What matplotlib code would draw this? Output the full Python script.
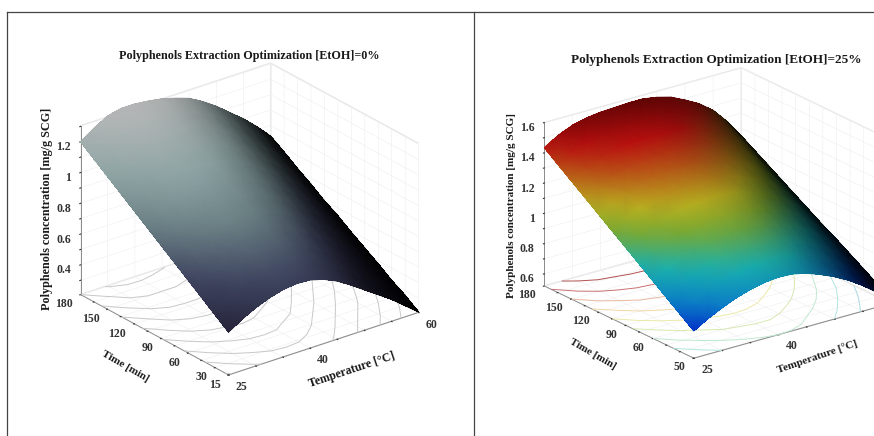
import numpy as np
import matplotlib
matplotlib.use("Agg")
import matplotlib.pyplot as plt
from matplotlib.colors import LinearSegmentedColormap, ListedColormap, Normalize
from matplotlib.lines import Line2D
from mpl_toolkits.mplot3d import proj3d

plt.rcParams["font.family"] = ["Liberation Serif", "DejaVu Serif"]
plt.rcParams["font.weight"] = "bold"

W, H = 874, 436

temps = [25, 27.5, 30, 32.5, 35, 37.5, 40, 42.5, 45, 47.5, 50, 52.5, 55, 57.5, 60]
times = [15, 30, 45, 60, 75, 90, 105, 120, 135, 150, 165, 180]

# concentration, one row per temperature, one column per time
conc_0 = [
    [.485, .55, .615, .68, .745, .81, .875, .94, 1.005, 1.07, 1.135, 1.20],
    [.54, .605, .67, .74, .80, .87, .93, .995, 1.06, 1.13, 1.19, 1.26],
    [.585, .65, .72, .78, .85, .915, .98, 1.05, 1.11, 1.18, 1.24, 1.31],
    [.62, .685, .75, .81, .88, .94, 1.01, 1.07, 1.14, 1.20, 1.265, 1.33],
    [.645, .71, .77, .83, .89, .955, 1.02, 1.08, 1.14, 1.20, 1.27, 1.33],
    [.655, .715, .775, .835, .90, .96, 1.02, 1.08, 1.14, 1.20, 1.26, 1.32],
    [.65, .71, .77, .83, .89, .95, 1.01, 1.07, 1.125, 1.185, 1.245, 1.305],
    [.625, .685, .745, .80, .86, .92, .98, 1.04, 1.10, 1.16, 1.22, 1.28],
    [.585, .645, .705, .77, .83, .89, .95, 1.01, 1.07, 1.13, 1.19, 1.25],
    [.53, .59, .65, .71, .775, .835, .895, .96, 1.02, 1.08, 1.14, 1.20],
    [.47, .53, .59, .655, .715, .775, .835, .90, .96, 1.02, 1.08, 1.14],
    [.41, .47, .53, .59, .65, .71, .77, .83, .89, .95, 1.01, 1.07],
    [.35, .41, .47, .53, .585, .645, .705, .76, .82, .88, .94, 1.00],
    [.28, .34, .40, .455, .51, .57, .63, .685, .745, .80, .86, .92],
    [.21, .27, .32, .38, .435, .49, .55, .60, .66, .715, .775, .83],
]
conc_25 = [
    [.70, .767, .833, .90, .967, 1.034, 1.10, 1.167, 1.234, 1.30, 1.367, 1.434],
    [.755, .82, .89, .955, 1.02, 1.09, 1.155, 1.22, 1.29, 1.36, 1.425, 1.49],
    [.80, .87, .93, 1.00, 1.07, 1.13, 1.20, 1.26, 1.33, 1.40, 1.46, 1.53],
    [.84, .905, .97, 1.03, 1.10, 1.165, 1.23, 1.295, 1.36, 1.425, 1.49, 1.553],
    [.87, .93, 1.00, 1.06, 1.12, 1.19, 1.25, 1.31, 1.38, 1.44, 1.50, 1.565],
    [.89, .95, 1.01, 1.075, 1.14, 1.20, 1.26, 1.32, 1.385, 1.45, 1.51, 1.57],
    [.90, .96, 1.02, 1.085, 1.145, 1.21, 1.27, 1.33, 1.39, 1.45, 1.515, 1.575],
    [.895, .96, 1.02, 1.08, 1.14, 1.205, 1.27, 1.33, 1.39, 1.45, 1.515, 1.575],
    [.875, .94, 1.00, 1.06, 1.125, 1.19, 1.25, 1.31, 1.375, 1.44, 1.50, 1.56],
    [.84, .90, .965, 1.03, 1.09, 1.155, 1.22, 1.28, 1.345, 1.41, 1.47, 1.535],
    [.80, .86, .925, .99, 1.05, 1.115, 1.175, 1.24, 1.30, 1.365, 1.43, 1.49],
    [.75, .81, .875, .94, 1.00, 1.065, 1.125, 1.19, 1.25, 1.315, 1.38, 1.44],
    [.69, .75, .81, .875, .935, 1.00, 1.06, 1.12, 1.185, 1.245, 1.31, 1.37],
    [.62, .68, .74, .80, .855, .915, .975, 1.03, 1.09, 1.15, 1.21, 1.27],
    [.55, .605, .66, .715, .77, .82, .875, .93, .985, 1.04, 1.095, 1.15],
]

x_ticks = [25, 30, 35, 40, 45, 50, 55, 60]
x_labels = ["25", "", "", "40", "", "", "", "60"]
y_ticks = [15, 30, 45, 60, 75, 90, 105, 120, 135, 150, 165, 180]
y_labels_0 = ["15", "30", "", "60", "", "90", "", "120", "", "150", "", "180"]
y_labels_25 = ["50", "", "", "60", "", "90", "", "120", "", "150", "", "180"]
z_ticks_0 = [.3, .4, .5, .6, .7, .8, .9, 1, 1.1, 1.2, 1.3]
z_labels_0 = ["", "0.4", "", "0.6", "", "0.8", "", "1", "", "1.2", ""]
z_ticks_25 = [.6, .7, .8, .9, 1, 1.1, 1.2, 1.3, 1.4, 1.5, 1.6]
z_labels_25 = ["0.6", "", "0.8", "", "1", "", "1.2", "", "1.4", "", "1.6"]

# brightness of the lit surface at each temperature
light = [1, 1, 1, 1, 1, .98, .95, .89, .81, .71, .59, .46, .33, .19, .06]

gray_map = LinearSegmentedColormap.from_list(
    "gray_map", [(0, "#0c0c18"), (.25, "#25233a"), (.44, "#3f4560"), (.62, "#6b8185"),
                 (.8, "#8fa5a5"), (1, "#b4b6b6")])
jet_map = LinearSegmentedColormap.from_list(
    "jet_map", [(0, "#001060"), (.167, "#0030c8"), (.26, "#0a78c8"), (.4, "#18b0b0"),
                (.54, "#7aa830"), (.63, "#b8b020"), (.74, "#b86018"), (.86, "#b80f0f"),
                (1, "#5e0303")])

fig = plt.figure(figsize=(W / 100, H / 100), dpi=100, facecolor="white")


def draw_panel(box, conc, cmap, zlim, elev, azim, zaspect, yl, zt, zl, contour_colors, levels):
    left, bottom, side = box
    ax = fig.add_axes([left / W, bottom / H, side / W, side / H], projection="3d",
                      proj_type="ortho", computed_zorder=False)
    ax.patch.set_alpha(0)
    T, t = np.meshgrid(temps, times, indexing="ij")
    Z = np.array(conc)

    colors = cmap(Normalize(zlim[0], zlim[1])(Z))
    colors[..., :3] *= np.array(light)[:, None, None]

    ax.contour(T, t, Z, levels=levels, zdir="z", offset=zlim[0], colors=contour_colors,
               linewidths=0.7, zorder=1)
    ax.plot_surface(T, t, Z, facecolors=colors, shade=False, rstride=1, cstride=1,
                    linewidth=0, antialiased=False, edgecolor="none", zorder=2)

    ax.set_xlim(25, 60)
    ax.set_ylim(15, 180)
    ax.set_zlim(*zlim)
    ax.view_init(elev=elev, azim=azim)
    ax.set_box_aspect((1, 1, zaspect))
    ax.set_xticks(x_ticks, x_labels)
    ax.set_yticks(y_ticks, yl)
    ax.set_zticks(zt, zl)
    for axis in (ax.xaxis, ax.yaxis, ax.zaxis):
        axis.set_pane_color((1, 1, 1, 1))
        axis.pane.set_edgecolor("#e8e8e8")
        axis.line.set_color("#8a8a8a")
        axis.line.set_linewidth(0.7)
        axis._axinfo["grid"].update(color="#eeeeee", linewidth=0.4)
        axis._axinfo["tick"].update(inward_factor=0.05, outward_factor=0.0)
    ax.tick_params(labelsize=8.5, colors="#333333", length=2, width=0.4)
    ax.tick_params(axis="x", pad=-1)
    ax.tick_params(axis="y", pad=-2)
    ax.tick_params(axis="z", pad=-4)
    plt.setp(ax.get_xticklabels(), ha="left", va="center")
    plt.setp(ax.get_yticklabels(), ha="right", va="center")
    plt.setp(ax.get_zticklabels(), ha="right")

    # gouraud mesh on top of the facets, same vertices, so the 12 x 15 table has no colour bands
    ax.apply_aspect()
    sx, sy, _ = proj3d.proj_transform(T.ravel(), t.ravel(), Z.ravel(), ax.get_proj())
    pix = ax.transData.transform(np.column_stack([sx, sy]))
    over = fig.add_axes([0, 0, 1, 1], zorder=ax.get_zorder() + 1)
    over.set_xlim(0, W)
    over.set_ylim(0, H)
    over.axis("off")
    n = Z.size
    over.pcolormesh(pix[:, 0].reshape(Z.shape), pix[:, 1].reshape(Z.shape),
                    np.arange(n).reshape(Z.shape), shading="gouraud",
                    cmap=ListedColormap(colors.reshape(-1, 4)), norm=Normalize(-.5, n - .5))
    return ax


draw_panel((56, 23.4, 377), conc_0, gray_map, (.207, 1.305), 25, -127.9, .774,
           y_labels_0, z_ticks_0, z_labels_0, "#c8c8c8",
           [.3, .4, .5, .6, .7, .8, .9, 1.0, 1.1, 1.2, 1.3])
draw_panel((522.4, 27.9, 380), conc_25, jet_map, (.52, 1.6), 21.5, -127.2, .71,
           y_labels_25, z_ticks_25, z_labels_25,
           ["#9fb8e0", "#a8d8e0", "#b0e4e0", "#c0e8d0", "#d8e8b0", "#ece8a8",
            "#f0d8a8", "#e8b8a0", "#c87070", "#b05050"],
           [.6, .7, .8, .9, 1.0, 1.1, 1.2, 1.3, 1.4, 1.5])


# titles and axis labels, placed in pixels
def put(x, y, s, size, rot=0):
    fig.text(x / W, 1 - y / H, s, fontsize=size, rotation=rot, ha="center", va="center",
             color="#1a1a1a", rotation_mode="anchor")


put(249, 56, "Polyphenols Extraction Optimization [EtOH]=0%", 8.75)
put(716, 60, "Polyphenols Extraction Optimization [EtOH]=25%", 9.5)
put(47, 209, "Polyphenols concentration [mg/g SCG]", 8.7, 90)
put(512, 205, "Polyphenols concentration [mg/g SCG]", 8, 90)
put(125, 366, "Time [min]", 8, -30)
put(352, 370, "Temperature [°C]", 8.6, 18.5)
put(593, 354, "Time [min]", 7.8, -30)
put(817, 357, "Temperature [°C]", 8, 19)

# panel frames
frame = dict(color="#444444", linewidth=0.9)
fig.add_artist(Line2D([7 / W, 1], [1 - 12 / H, 1 - 12 / H], **frame))
fig.add_artist(Line2D([7 / W, 7 / W], [0, 1 - 12 / H], **frame))
fig.add_artist(Line2D([474 / W, 474 / W], [0, 1 - 12 / H], **frame))

fig.savefig("out.png", dpi=100)
